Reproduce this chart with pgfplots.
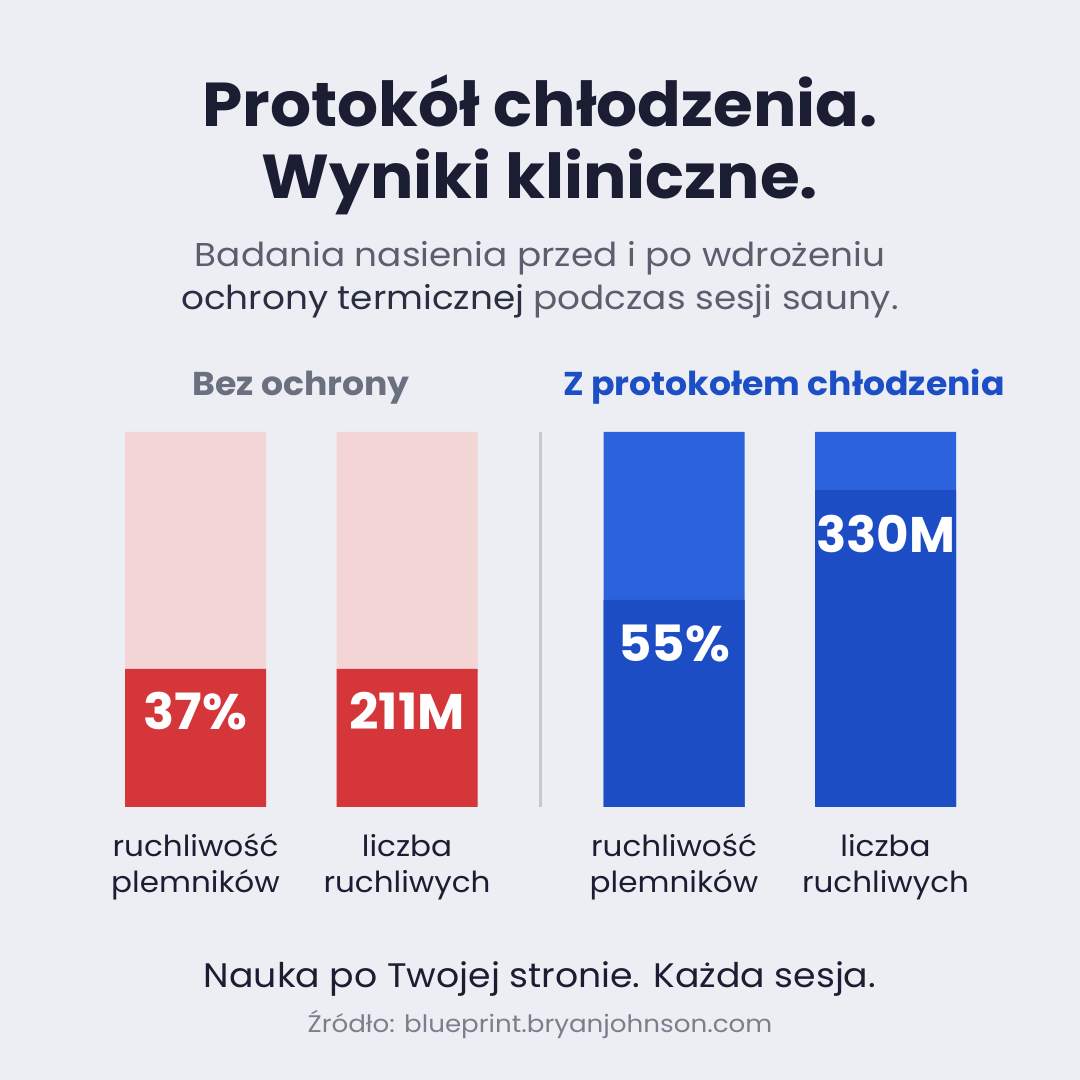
\documentclass[border=0pt]{standalone}
\usepackage{pgfplots}
\pgfplotsset{compat=1.18}
\usepackage{fontspec}
\usepackage{graphicx}
\setmainfont{Poppins}
\definecolor{bg}{HTML}{ECEEF3}
\definecolor{titlec}{HTML}{1B1E33}
\definecolor{subc}{HTML}{5A5F6E}
\definecolor{subdark}{HTML}{2A2E42}
\definecolor{grayhead}{HTML}{6B7080}
\definecolor{bluehead}{HTML}{1C4FC6}
\definecolor{redfill}{HTML}{D5363A}
\definecolor{redtrack}{HTML}{F4D5D6}
\definecolor{bluetrack}{HTML}{2C62DB}
\definecolor{bluefill}{HTML}{1C4DC4}
\definecolor{sepc}{HTML}{C3C8D3}
\definecolor{srcc}{HTML}{7A7F8C}
\newcommand{\sx}[2]{\scalebox{#1}[1]{#2}}
\begin{document}
\begin{tikzpicture}[x=1pt,y=1pt]
\fill[bg] (0,0) rectangle (1080,1080);
\begin{axis}[at={(0,0)}, anchor=south west, scale only axis,
  width=1080pt, height=1080pt,
  xmin=0, xmax=1080, ymin=-72.8, ymax=215.2,
  hide axis, clip=false, ybar, bar width=141pt]
% tracks
\addplot[fill=redtrack, draw=none, bar shift=0pt] coordinates {(195.5,100) (407,100)};
\addplot[fill=redfill, draw=none, bar shift=0pt] coordinates {(195.5,36.8) (407,36.8)};
\addplot[fill=bluetrack, draw=none, bar shift=0pt] coordinates {(674,100) (885.5,100)};
\addplot[fill=bluefill, draw=none, bar shift=0pt] coordinates {(674,55.2) (885.5,84.5)};
\draw[sepc, line width=3pt] (axis cs:540,0) -- (axis cs:540,100);
\begin{scope}[every node/.style={anchor=base, text=white, font=\fontsize{50}{58}\selectfont\bfseries}]
\node[yshift=-61pt] at (axis cs:195.5,36.8) {\sx{1.03}{37\%}};
\node[yshift=-61pt] at (axis cs:407,36.8) {\sx{1.03}{211M}};
\node[yshift=-62pt] at (axis cs:674,55.2) {\sx{1.03}{55\%}};
\node[yshift=-62pt] at (axis cs:885.5,84.5) {\sx{1.0}{330M}};
\end{scope}
\end{axis}
% texts
\begin{scope}[every node/.style={anchor=base, inner sep=0pt}]
\node[text=titlec, font=\fontsize{62}{70}\selectfont\bfseries] at (540,953) {\sx{1.04}{Protokół chłodzenia.}};
\node[text=titlec, font=\fontsize{62}{70}\selectfont\bfseries] at (540,881) {\sx{1.04}{Wyniki kliniczne.}};
\node[text=subc, font=\fontsize{33}{38}\selectfont] at (540,813) {\sx{1.085}{Badania nasienia przed i po wdrożeniu}};
\node[text=subc, font=\fontsize{33}{38}\selectfont] at (540,770) {\sx{1.085}{\textcolor{subdark}{ochrony termicznej} podczas sesji sauny.}};
\node[text=grayhead, font=\fontsize{33}{38}\selectfont\bfseries] at (301,684) {\sx{1.05}{Bez ochrony}};
\node[text=bluehead, font=\fontsize{33}{38}\selectfont\bfseries] at (784,684) {\sx{1.05}{Z protokołem chłodzenia}};
\foreach \xx in {195.5,674} {
  \node[text=titlec, font=\fontsize{29}{34}\selectfont] at (\xx,223) {\sx{1.07}{ruchliwość}};
  \node[text=titlec, font=\fontsize{29}{34}\selectfont] at (\xx,187) {\sx{1.07}{plemników}};
}
\foreach \xx in {407,885.5} {
  \node[text=titlec, font=\fontsize{29}{34}\selectfont] at (\xx,223) {\sx{1.07}{liczba}};
  \node[text=titlec, font=\fontsize{29}{34}\selectfont] at (\xx,187) {\sx{1.07}{ruchliwych}};
}
\node[text=titlec, font=\fontsize{34}{40}\selectfont] at (540,92) {\sx{1.065}{Nauka po Twojej stronie. Każda sesja.}};
\node[text=srcc, font=\fontsize{24}{28}\selectfont] at (540,47) {\sx{1.09}{Źródło: blueprint.bryanjohnson.com}};
\end{scope}
\end{tikzpicture}
\end{document}
